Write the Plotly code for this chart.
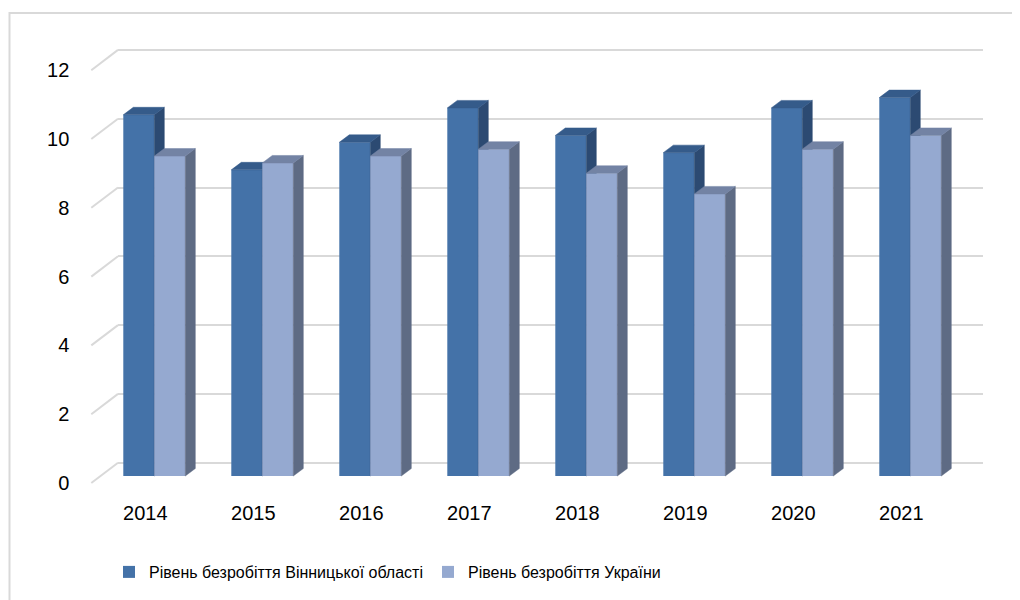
import plotly.graph_objects as go

# дані
years = ["2014", "2015", "2016", "2017", "2018", "2019", "2020", "2021"]
vinnytsia = [10.5, 8.9, 9.7, 10.7, 9.9, 9.4, 10.7, 11.0]
ukraine = [9.3, 9.1, 9.3, 9.5, 8.8, 8.2, 9.5, 9.9]
y_ticks = [0, 2, 4, 6, 8, 10, 12]
names = ["Рівень безробіття Вінницької області", "Рівень безробіття України"]

W, H = 1020, 600
OFF = 8              # відступ body у сторінці
PX = 34.4            # пікселів на одиницю по осі y
CAT = 108.0          # пікселів на категорію
BAR_W = 0.287        # ширина стовпця в одиницях категорії
DX, DY = 10 / CAT, 7.5 / PX   # глибина стовпця (косокутна проекція)

# площини: передня (підписи), стовпці, задня стінка (координати сторінки)
bar_left, bar_zero = 100.3 - OFF, 476.0 - OFF
wall_left, wall_right, wall_zero = 118.0 - OFF, 983.0 - OFF, 462.7 - OFF
front_left, front_zero = 91.3 - OFF, 483.0 - OFF

font = "Liberation Sans, Arial, sans-serif"


def y_range(zero_px):
    top = zero_px / PX
    return [top - H / PX, top]


def faces(values, offset):
    """Верхня та бічна грані 3D-стовпців."""
    tx, ty, sx, sy = [], [], [], []
    for i, v in enumerate(values):
        x0 = i + offset
        x1 = x0 + BAR_W
        tx += [x0, x1, x1 + DX, x0 + DX, x0, None]
        ty += [v, v, v + DY, v + DY, v, None]
        sx += [x1, x1, x1 + DX, x1 + DX, x1, None]
        sy += [0, v, v + DY, DY, 0, None]
    return tx, ty, sx, sy


fig = go.Figure()

series = [
    (vinnytsia, -BAR_W, "#4472a8", "#355b8a", "#2c4a72", "y2"),
    (ukraine, 0.0, "#95a9d0", "#7383a4", "#5e6b84", "y3"),
]
for (vals, off, c_front, c_top, c_side, yax), name in zip(series, names):
    fig.add_trace(go.Bar(
        x=list(range(len(years))), y=vals, offset=off, width=BAR_W,
        marker=dict(color=c_front, line=dict(width=0)),
        name=name, xaxis="x2", yaxis=yax,
    ))
    tx, ty, sx, sy = faces(vals, off)
    for px_, py_, col in [(sx, sy, c_side), (tx, ty, c_top)]:
        fig.add_trace(go.Scatter(
            x=px_, y=py_, fill="toself", fillcolor=col, mode="lines",
            line=dict(color=col, width=0.5), hoverinfo="skip",
            showlegend=False, xaxis="x2", yaxis=yax,
        ))

# підписи на передній площині
fig.add_trace(go.Scatter(x=[None], y=[None], xaxis="x4", yaxis="y4",
                         showlegend=False, hoverinfo="skip"))

# діагональні лінії ліворуч (від передньої площини до задньої стінки)
depth_units = (front_zero - wall_zero) / PX
for t in y_ticks:
    fig.add_shape(type="line", xref="paper", yref="y",
                  x0=front_left / W, y0=t - depth_units,
                  x1=wall_left / W, y1=t,
                  line=dict(color="#d9d9d9", width=2), layer="below")

# рамка
fig.add_shape(type="rect", xref="paper", yref="paper",
              x0=(9.5 - OFF) / W, y0=1 - (13 - OFF) / H, x1=1.02, y1=-0.02,
              line=dict(color="#d9d9d9", width=2))

cat_range = [-0.5, 7.5]
bar_dom = [bar_left / W, (bar_left + 8 * CAT) / W]
front_dom = [front_left / W, (front_left + 8 * CAT) / W]

fig.update_layout(
    width=W, height=H,
    margin=dict(l=0, r=0, t=0, b=0),
    paper_bgcolor="white", plot_bgcolor="rgba(0,0,0,0)",
    barmode="overlay",
    font=dict(family=font, size=20, color="black"),
    showlegend=True,
    legend=dict(orientation="h", x=101 / W,
                y=1 - (572 - OFF) / H, yanchor="middle", xanchor="left",
                font=dict(size=16), itemwidth=30,
                bgcolor="rgba(0,0,0,0)"),
    # задня стінка — сітка
    xaxis=dict(domain=[wall_left / W, wall_right / W], range=[0, 1],
               visible=False, anchor="y"),
    yaxis=dict(domain=[0, 1], range=y_range(wall_zero), anchor="x",
               tickvals=y_ticks, showgrid=True, gridcolor="#d9d9d9",
               gridwidth=2, showticklabels=False, zeroline=False,
               showline=False),
    # стовпці
    xaxis2=dict(domain=bar_dom, range=cat_range, visible=False, anchor="y2"),
    yaxis2=dict(domain=[0, 1], range=y_range(bar_zero), visible=False,
                anchor="x2"),
    yaxis3=dict(range=y_range(bar_zero), visible=False, overlaying="y2",
                anchor="x2"),
    # підписи осей
    xaxis4=dict(domain=front_dom, range=cat_range, anchor="free",
                position=1 - front_zero / H, tickvals=list(range(len(years))),
                ticktext=years, showgrid=False, zeroline=False,
                showline=False, ticks="", ticklabelstandoff=16,
                tickfont=dict(size=20)),
    yaxis4=dict(domain=[0, 1], range=y_range(front_zero), anchor="x4",
                tickvals=y_ticks, showgrid=False, zeroline=False,
                showline=False, ticks="", ticklabelstandoff=21,
                tickfont=dict(size=20)),
)

fig.write_html("out.html")
